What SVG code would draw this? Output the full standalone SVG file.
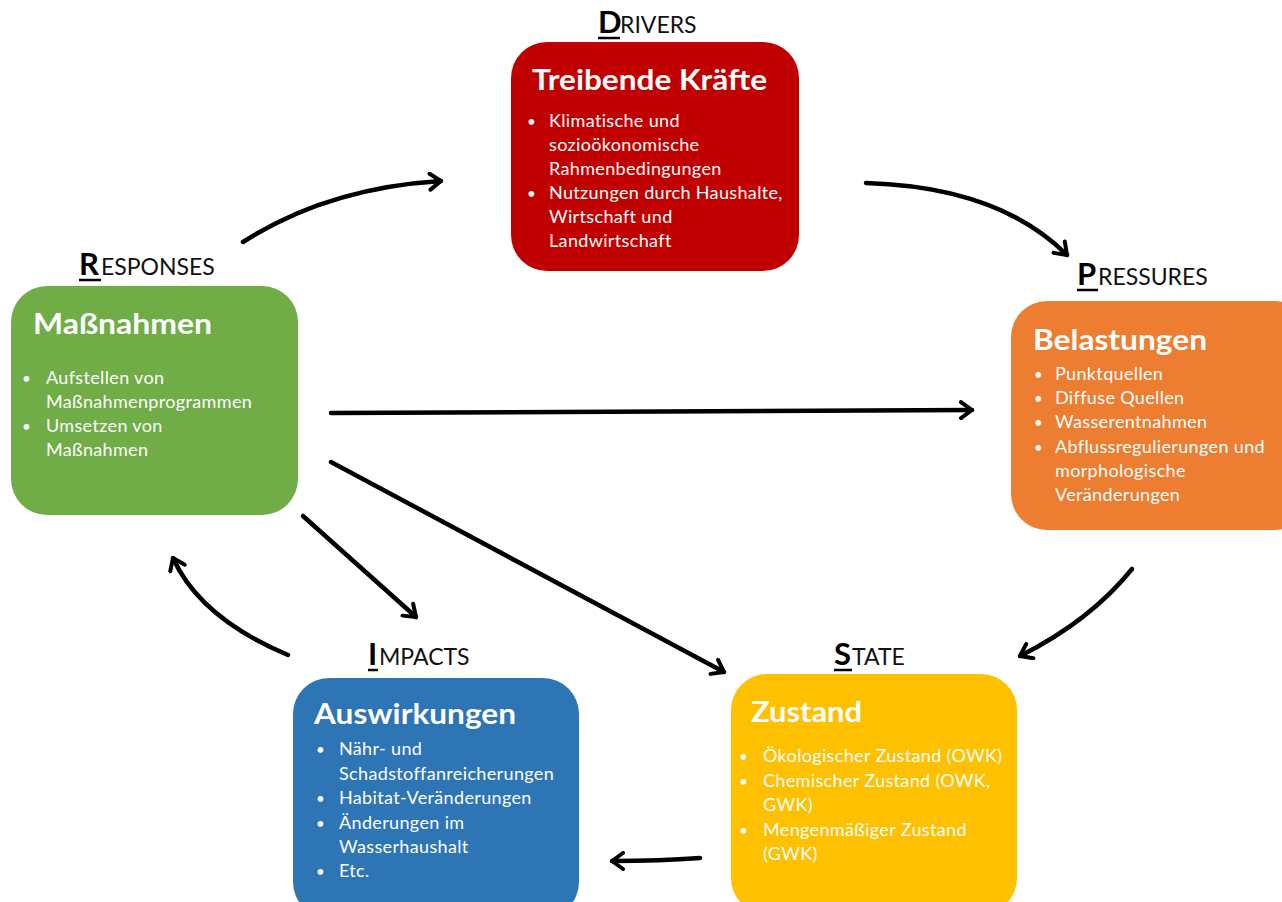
<svg xmlns="http://www.w3.org/2000/svg" width="1282" height="902" viewBox="0 0 1282 902">
<defs>
<marker id="chev" viewBox="0 0 20 20" refX="16" refY="10" markerWidth="20" markerHeight="20" markerUnits="userSpaceOnUse" orient="auto">
<path d="M5,2 L16,10 L5,18" fill="none" stroke="#000" stroke-width="4" stroke-linecap="round" stroke-linejoin="round"/>
</marker>
</defs>
<style>
.box{stroke:none}
.title{font-family:Lato,"Open Sans",sans-serif;font-weight:700;fill:#fff}
.item{font-family:Lato,"Open Sans",sans-serif;font-size:18px;letter-spacing:0.35px;fill:#fff}
.dot{font-family:Lato,"Open Sans",sans-serif;font-size:15px;fill:#fff}
.big{font-family:Lato,"Open Sans",sans-serif;font-weight:700;font-size:31px;fill:#000}
.small{font-family:Lato,"Open Sans",sans-serif;font-size:23px;fill:#111}
.ul{stroke:#000;stroke-width:2.5}
.conn{fill:none;stroke:#000;stroke-width:4.5;stroke-linecap:round;marker-end:url(#chev)}
</style>
<rect width="1282" height="902" fill="#fff"/>

<g id="drivers">
<text x="598" y="33" class="big">D</text><text x="620" y="33" class="small">RIVERS</text>
<line x1="598" y1="38" x2="620" y2="38" class="ul"/>
<rect x="511" y="42" width="288" height="229" rx="36" fill="#C00000" class="box"/>
<text x="532" y="90" class="title" font-size="29" textLength="235" lengthAdjust="spacingAndGlyphs">Treibende Kräfte</text>
<text x="527" y="127" class="dot">•</text>
<text x="549" y="127" class="item">Klimatische und</text>
<text x="549" y="151" class="item">sozioökonomische</text>
<text x="549" y="175" class="item">Rahmenbedingungen</text>
<text x="527" y="199" class="dot">•</text>
<text x="549" y="199" class="item">Nutzungen durch Haushalte,</text>
<text x="549" y="223" class="item">Wirtschaft und</text>
<text x="549" y="247" class="item">Landwirtschaft</text>
</g>

<g id="responses">
<text x="79" y="275" class="big">R</text><text x="101" y="275" class="small">ESPONSES</text>
<line x1="79" y1="280" x2="101" y2="280" class="ul"/>
<rect x="11" y="286" width="287" height="229" rx="36" fill="#70AD47" class="box"/>
<text x="33" y="334" class="title" font-size="29" textLength="179" lengthAdjust="spacingAndGlyphs">Maßnahmen</text>
<text x="22" y="384" class="dot">•</text>
<text x="46" y="384" class="item">Aufstellen von</text>
<text x="46" y="408" class="item">Maßnahmenprogrammen</text>
<text x="22" y="432" class="dot">•</text>
<text x="46" y="432" class="item">Umsetzen von</text>
<text x="46" y="456" class="item">Maßnahmen</text>
</g>

<g id="pressures">
<text x="1077" y="285" class="big">P</text><text x="1098" y="285" class="small">RESSURES</text>
<line x1="1077" y1="290" x2="1098" y2="290" class="ul"/>
<rect x="1011" y="301" width="300" height="229" rx="36" fill="#ED7D31" class="box"/>
<text x="1033" y="350" class="title" font-size="29" textLength="174" lengthAdjust="spacingAndGlyphs">Belastungen</text>
<text x="1034" y="380" class="dot">•</text>
<text x="1055" y="380" class="item">Punktquellen</text>
<text x="1034" y="404" class="dot">•</text>
<text x="1055" y="404" class="item">Diffuse Quellen</text>
<text x="1034" y="428" class="dot">•</text>
<text x="1055" y="428" class="item">Wasserentnahmen</text>
<text x="1034" y="453" class="dot">•</text>
<text x="1055" y="453" class="item">Abflussregulierungen und</text>
<text x="1055" y="477" class="item">morphologische</text>
<text x="1055" y="501" class="item">Veränderungen</text>
</g>

<g id="impacts">
<text x="368" y="665" class="big">I</text><text x="379" y="665" class="small">MPACTS</text>
<line x1="368" y1="670" x2="378" y2="670" class="ul"/>
<rect x="293" y="678" width="286" height="240" rx="36" fill="#2E75B6" class="box"/>
<text x="314" y="724" class="title" font-size="29" textLength="202" lengthAdjust="spacingAndGlyphs">Auswirkungen</text>
<text x="316" y="755" class="dot">•</text>
<text x="339" y="755" class="item">Nähr- und</text>
<text x="339" y="780" class="item">Schadstoffanreicherungen</text>
<text x="316" y="804" class="dot">•</text>
<text x="339" y="804" class="item">Habitat-Veränderungen</text>
<text x="316" y="829" class="dot">•</text>
<text x="339" y="829" class="item">Änderungen im</text>
<text x="339" y="853" class="item">Wasserhaushalt</text>
<text x="316" y="877" class="dot">•</text>
<text x="339" y="877" class="item">Etc.</text>
</g>

<g id="state">
<text x="834" y="665" class="big">S</text><text x="852" y="665" class="small">TATE</text>
<line x1="834" y1="670" x2="852" y2="670" class="ul"/>
<rect x="731" y="674" width="286" height="240" rx="36" fill="#FFC000" class="box"/>
<text x="751" y="722" class="title" font-size="29" textLength="111" lengthAdjust="spacingAndGlyphs">Zustand</text>
<text x="739" y="762" class="dot">•</text>
<text x="763" y="762" class="item">Ökologischer Zustand (OWK)</text>
<text x="739" y="787" class="dot">•</text>
<text x="763" y="787" class="item">Chemischer Zustand (OWK,</text>
<text x="763" y="811" class="item">GWK)</text>
<text x="739" y="836" class="dot">•</text>
<text x="763" y="836" class="item">Mengenmäßiger Zustand</text>
<text x="763" y="860" class="item">(GWK)</text>
</g>

<g id="connectors">
<path class="conn" d="M243,242 Q327,188 441,181"/>
<path class="conn" d="M866,183 Q999,187 1067,255"/>
<path class="conn" d="M331,413 L972,410"/>
<path class="conn" d="M331,462 L724,672"/>
<path class="conn" d="M303,516 L416,617"/>
<path class="conn" d="M1132,569 Q1090,621 1020,656"/>
<path class="conn" d="M700,858 Q660,861 612,861"/>
<path class="conn" d="M288,655 Q200,618 173,558"/>
</g>
</svg>
